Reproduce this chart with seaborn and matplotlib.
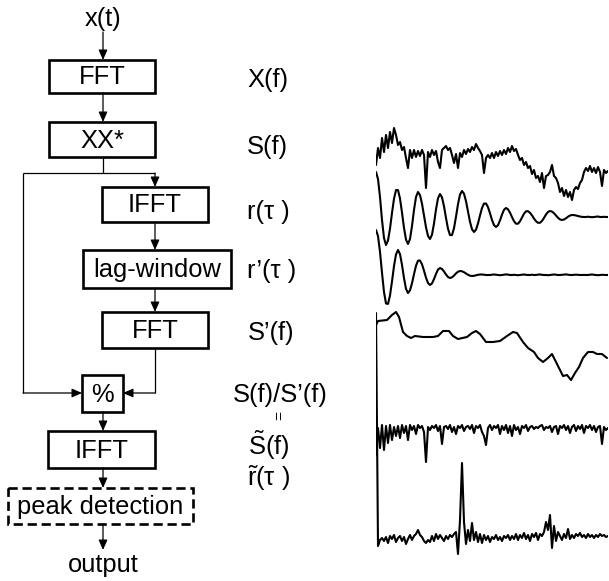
import matplotlib
matplotlib.use("Agg")
import matplotlib.pyplot as plt
from matplotlib.patches import Rectangle
import seaborn as sns
import pandas as pd
import numpy as np

# ---------------- data ----------------
# S(f): power spectrum, one value every 2 frequency bins
S_f = [40, 57, 47, 67, 53, 70, 57, 73, 62, 77, 70, 60, 63, 55, 58, 47, 37, 55, 47, 55,
       48, 54, 49, 55, 50, 17, 53, 48, 55, 50, 54, 43, 37, 55, 57, 59, 55, 57, 50, 42,
       51, 37, 52, 48, 55, 51, 56, 53, 58, 55, 61, 57, 54, 50, 32, 47, 50, 47, 52, 47,
       53, 49, 54, 50, 55, 51, 57, 53, 59, 54, 56, 50, 45, 47, 40, 43, 37, 39, 31, 35,
       27, 29, 23, 32, 17, 29, 30, 33, 40, 29, 27, 22, 13, 17, 9, 15, 8, 13, 5, 15,
       18, 16, 22, 25, 33, 37, 34, 39, 33, 37, 32, 38, 33, 19, 35, 32, 34]

# r(tau): autocorrelation, one value every 2 lags
r_tau = [45, 38, 20, -3, -21, -28, -23.5, -11.6, 4, 18.3, 26.9, 26.9, 18.5, 4.4, -10.9,
         -22.6, -27, -22, -9, 7, 20, 25, 21.9, 13.3, 1.5, -10.3, -18.9, -22, -17.7, -6.5,
         7.5, 18.7, 23, 19.6, 10.7, -1, -11.8, -18.1, -18.1, -11.2, 0.3, 12.8, 22.4, 26,
         23.3, 15.8, 5.5, -4.8, -12.3, -15, -12.7, -6.5, 1.6, 9, 13.4, 13.5, 9.9, 3.7, -3,
         -8.1, -10, -8.2, -3.4, 2.4, 7.2, 9, 7.7, 4.3, -0.1, -4.2, -6.7, -6.7, -4.3, -0.5,
         3.3, 5.7, 5.8, 4.2, 1.6, -1.6, -4.2, -5.8, -5.8, -3.9, -0.9, 2.5, 5, 6, 5.4, 3.8,
         1.5, -0.8, -2.4, -3, -2.5, -1.3, 0.3, 1.5, 2, 1.9, 1.5, 1, 0.5, 0.1, 0, 0, 0.3,
         0, -0.2, 0, 0.3, 0.5, 0, 0, 0.2, 0, 0]

# r'(tau): lag-windowed autocorrelation
r_win = [45, 39, 23.1, 2.2, -17.1, -28.5, -28.9, -20.5, -6.4, 8.9, 20.6, 25, 20.9, 10.1,
         -3.1, -13.9, -18, -15.3, -8.3, 0.8, 9.3, 14.3, 14.5, 10.7, 4.3, -2.7, -8, -10,
         -8.4, -4.1, 1.1, 5.4, 7, 6, 3.5, 0.5, -2, -3, -2.3, -0.6, 1.6, 3.3, 4, 3.7, 2.8,
         1.5, 0.3, -0.7, -1, -0.8, -0.3, 0.2, 0.5, 0.5, 0.3, 0, 0,
         0, 0.3, 0.5, 0.3, 0, -0.2, 0, 0.3, 0.6, 0.4, 0, 0, 0.2, 0, -0.2, 0, 0.3, 0.5,
         0.2, 0, 0, 0.3, 0, 0, 0.4, 0.5, 0.2, 0, 0, -0.2, 0, 0.3, 0.5, 0.3, 0, 0, 0.2,
         0.4, 0.6, 0.3, 0, 0, 0.2, 0.3, 0.2, 0, 0, 0.1, 0, 0, 0.3, 0.5, 0.2, 0, -0.2, 0,
         0.2, 0.1, 0, 0]

# S'(f): smoothed spectrum (frequency bin, value)
Sp_bin = [0, 2, 11, 16, 20, 23, 27, 31, 35, 39, 47, 57, 62, 67, 73, 77, 82, 91, 96, 100,
          104, 110, 117, 124, 131, 137, 141, 147, 152, 158, 162, 167, 172, 176, 179, 184,
          187, 191, 195, 199, 203, 207, 212, 217, 221, 226, 231]
Sp_val = [65, 69, 70, 75, 78, 73, 58, 54, 52, 54, 53, 53, 54, 59, 59, 54, 51, 53, 57, 59,
          56, 48, 48, 49, 54, 58, 57, 48, 42, 38, 32, 28, 32, 36, 30, 20, 14, 15, 10, 17,
          23, 32, 38, 38, 36, 36, 32]

# S~(f) = S(f)/S'(f): whitened spectrum
S_white = [-15, 12, -8, 15, -10, 14, -3, 15, 0, 13, 4, 14, 2, 15, 7, 14, 0, 15, 10, 14,
           6, 15, 12, 14, 8, -22, 13, 10, 14, 12, 15, 9, 14, -4, 13, 14, 11, 15, 8, 13,
           6, 14, 12, 15, 9, 13, 14, 11, 15, 7, 14, 12, 15, 8, 4, -5, 12, 15, 10, 14,
           12, 15, 6, 14, 10, 15, 7, 14, 4, 15, 10, 13, 6, 14, 12, 15, 9, 13, 14, 11,
           13, 12, 14, 15, 10, 13, 12, 14, 8, 13, 14, 6, 14, 12, 15, 10, 14, 7, 13, 15,
           9, 14, 11, 15, 7, 14, 12, 15, 10, 14, 8, 13, 14, -4, 13, 10, 12]

# r~(tau): autocorrelation of the whitened spectrum
r_white = [225, -8, -2, 0, -3, 1, -5, 2, -1, 3, -4, 0, 2, -3, 1, -6, -1, 3, -2, 2,
           4, 8, 3, 1, -3, -5, -2, -4, 2, -3, 4, -1, 3, 0, -3, 2, -1, 3, 1, 4,
           6, -16, 18, 75, 16, -6, 8, -3, 15, -2, 6, -4, 4, -5, 3, -2, 2, -4, 1, -1,
           3, -2, 1, -3, 2, 0, 3, -2, 2, -1, 4, -2, 3, 0, 5, -1, 3, -3, 4, 1,
           5, -2, 4, 2, 6, 16, 8, 23, -10, 12, -3, 6, 2, -2, 4, 0, 9, -1, 3, 0,
           4, 2, 5, 1, 3, 0, 4, 1, 3, 0, 3, 1, 4, 2, 3, 1, 2]

box_labels = ["FFT", "XX*", "IFFT", "lag-window", "FFT", "%", "IFFT", "peak detection"]
signal_labels = ["X(f)", "S(f)", "r(\u03c4 )", "r\u2019(\u03c4 )", "S\u2019(f)",
                 "S(f)/S\u2019(f)", "$\\mathrm{\\tilde{S}}$(f)",
                 "$\\mathrm{\\tilde{r}}$(\u03c4 )"]

# ---------------- figure ----------------
sns.set_theme(style="white")
plt.rcParams['font.family'] = ['Liberation Sans', 'DejaVu Sans']
plt.rcParams['mathtext.fontset'] = 'custom'
plt.rcParams['mathtext.rm'] = 'Liberation Sans'
plt.rcParams['mathtext.it'] = 'Liberation Sans:italic'
plt.rcParams['mathtext.bf'] = 'Liberation Sans:bold'

W, H = 609, 581
fig = plt.figure(figsize=(W / 100, H / 100), dpi=100)
fig.patch.set_facecolor("white")
ax = fig.add_axes([0, 0, 1, 1])
ax.set_xlim(0, W)
ax.set_ylim(H, 0)
ax.axis("off")

FS = 18.4
K = "black"

# boxes: (x0, y0, x1, y1)
boxes = [(49, 60, 155, 93), (49, 122, 155, 157), (102, 187, 208, 222),
         (83, 250, 231, 288), (102, 312, 208, 348), (82, 375, 123, 412),
         (48, 431, 155, 468), (8, 488, 193, 524)]
for (x0, y0, x1, y1), lab in zip(boxes, box_labels):
    dashed = (lab == "peak detection")
    ax.add_patch(Rectangle((x0, y0), x1 - x0, y1 - y0, fill=False, ec=K,
                           lw=1.9, ls=(0, (3.5, 1.8)) if dashed else "-"))
    ax.text((x0 + x1) / 2, (y0 + y1) / 2 + 1, lab, ha="center", va="center",
            fontsize=FS, color=K)


def arrow(p0, p1):
    ax.annotate("", xy=p1, xytext=p0,
                arrowprops=dict(arrowstyle="-|>,head_length=0.5,head_width=0.22",
                                color=K, lw=0.9, shrinkA=0, shrinkB=0,
                                mutation_scale=12))


def line(xs, ys):
    ax.plot(xs, ys, color=K, lw=0.9, solid_capstyle="butt")


ax.text(103, 19, "x(t)", ha="center", va="center", fontsize=FS, color=K)
arrow((103, 32), (103, 60))
arrow((103, 93), (103, 122))
line([103, 103], [157, 173])
line([23, 155], [173, 173])
arrow((155, 173), (155, 187))
arrow((155, 222), (155, 250))
arrow((155, 288), (155, 312))
line([155, 155], [348, 393])
arrow((155, 393), (123, 393))
line([23, 23], [173, 393])
arrow((23, 393), (82, 393))
arrow((103, 412), (103, 431))
arrow((103, 468), (103, 488))
arrow((103, 524), (103, 550))
ax.text(103, 565, "output", ha="center", va="center", fontsize=FS, color=K)

# signal names
label_pos = [(247, 80), (247, 147), (247, 212), (247, 271), (248, 333),
             (233, 395)]
for (x, y), lab in zip(label_pos, signal_labels[:6]):
    ax.text(x, y, lab, ha="left", va="center", fontsize=FS, color=K)
# the two tilde labels are placed on their baselines
ax.text(248, 455, signal_labels[6], ha="left", va="baseline", fontsize=FS, color=K)
ax.text(247, 486, signal_labels[7], ha="left", va="baseline", fontsize=FS, color=K)
# vertical equals sign between S(f)/S'(f) and S~(f)
ax.text(280, 415, "=", ha="center", va="center", fontsize=FS * 0.6, color=K,
        rotation=90)


# ---------------- signal traces ----------------
def trace_ax(top, bottom, base):
    a = fig.add_axes([376 / W, 1 - bottom / H, (608 - 376) / W, (bottom - top) / H])
    a.set_xlim(0, 232)
    a.set_ylim(base - bottom, base - top)
    a.axis("off")
    a.patch.set_alpha(0)
    return a


def draw(a, xs, ys):
    df = pd.DataFrame({"bin": xs, "value": ys})
    sns.lineplot(data=df, x="bin", y="value", ax=a, color=K, lw=1.5,
                 estimator=None, sort=False)
    a.axis("off")


a1 = trace_ax(120, 210, 205)
draw(a1, np.arange(len(S_f)) * 2, S_f)
a2 = trace_ax(165, 255, 217)
draw(a2, np.arange(len(r_tau)) * 2, r_tau)
a3 = trace_ax(222, 310, 275)
draw(a3, np.arange(len(r_win)) * 2, r_win)
a4 = trace_ax(305, 395, 390)
draw(a4, Sp_bin, Sp_val)
a5 = trace_ax(415, 470, 440)
draw(a5, np.arange(len(S_white)) * 2, S_white)
a6 = trace_ax(305, 560, 538)
draw(a6, np.arange(len(r_white)) * 2, r_white)

fig.savefig("out.png", dpi=100, facecolor="white")
